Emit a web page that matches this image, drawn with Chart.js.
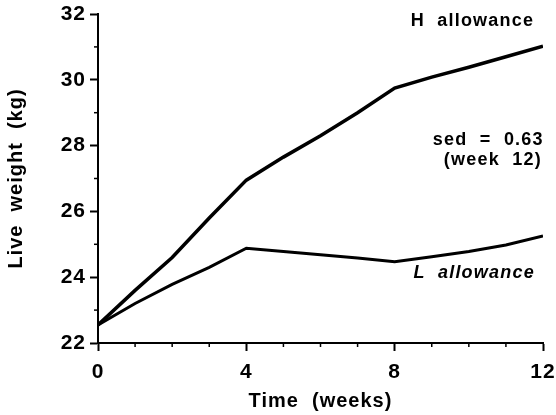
<!DOCTYPE html>
<html>
<head>
<meta charset="utf-8">
<script src="https://cdn.jsdelivr.net/npm/chart.js@4"></script>
<style>
  html, body { margin: 0; padding: 0; background: #fff; }
  #wrap { width: 556px; height: 415px; }
</style>
</head>
<body>
<div id="wrap"><canvas id="chart" width="556" height="415"></canvas></div>
<script>
// weeks
const weeks = [0, 1, 2, 3, 4, 5, 6, 7, 8, 9, 10, 11, 12];
// live weight (kg)
const highAllowance = [22.55, 23.6, 24.6, 25.8, 26.95, 27.65, 28.3, 29.0, 29.75, 30.08, 30.38, 30.7, 31.02];
const lowAllowance = [22.55, 23.2, 23.78, 24.3, 24.88, 24.78, 24.68, 24.58, 24.47, 24.62, 24.78, 24.98, 25.25];

const xMajor = [0, 4, 8, 12];
const yMajor = [22, 24, 26, 28, 30, 32];

const FONT = "'Liberation Sans', Arial, Helvetica, sans-serif";

/* ================= ANNOTATIONS + MINOR TICKS ================= */

const extras = {
  id: "extras",
  beforeLayout(chart) { chart.ctx.letterSpacing = "1px"; },
  beforeDraw(chart) { chart.ctx.letterSpacing = "1px"; },
  afterDraw(chart) {
    const ctx = chart.ctx;
    const x = chart.scales.x;
    const y = chart.scales.y;

    ctx.save();
    ctx.strokeStyle = "#000";
    ctx.lineWidth = 1.5;

    // minor ticks (short ones)
    for (let w = 0; w <= 12; w++) {
      if (xMajor.includes(w)) continue;
      const px = x.getPixelForValue(w);
      ctx.beginPath();
      ctx.moveTo(px, y.bottom);
      ctx.lineTo(px, y.bottom + 4);
      ctx.stroke();
    }
    for (let v = 22; v <= 32; v++) {
      if (yMajor.includes(v)) continue;
      const py = y.getPixelForValue(v);
      ctx.beginPath();
      ctx.moveTo(x.left - 4, py);
      ctx.lineTo(x.left, py);
      ctx.stroke();
    }

    // text labels
    ctx.fillStyle = "#000";
    ctx.textAlign = "right";
    ctx.textBaseline = "middle";
    ctx.letterSpacing = "1.2px";

    ctx.font = "bold 18px " + FONT;
    ctx.fillText("H  allowance", x.getPixelForValue(11.76), y.getPixelForValue(31.8));

    ctx.fillText("sed  =  0.63", x.getPixelForValue(12.02), y.getPixelForValue(28.18));
    ctx.fillText("(week  12)", x.getPixelForValue(11.97), y.getPixelForValue(27.55));

    ctx.font = "italic bold 18px " + FONT;
    ctx.fillText("L  allowance", x.getPixelForValue(11.78), y.getPixelForValue(24.12));

    ctx.restore();
  }
};

/* ================= CHART ================= */

new Chart(document.getElementById("chart"), {
  type: "line",
  data: {
    labels: weeks,
    datasets: [
      {
        label: "H allowance",
        data: weeks.map((w, i) => ({ x: w, y: highAllowance[i] })),
        borderColor: "#000",
        borderWidth: 3.5,
        pointRadius: 0,
        tension: 0
      },
      {
        label: "L allowance",
        data: weeks.map((w, i) => ({ x: w, y: lowAllowance[i] })),
        borderColor: "#000",
        borderWidth: 3,
        pointRadius: 0,
        tension: 0
      }
    ]
  },
  options: {
    responsive: false,
    animation: false,
    layout: { padding: { top: 14, right: 13, left: 4, bottom: 2 } },
    plugins: {
      legend: { display: false },
      tooltip: { enabled: false }
    },
    scales: {
      x: {
        type: "linear",
        min: 0,
        max: 12,
        afterBuildTicks: scale => {
          scale.ticks = xMajor.map(v => ({ value: v }));
        },
        afterFit: scale => {
          scale.height = 415 - 343 - 2;
          scale.paddingLeft = 0;
          scale.paddingRight = 0;
        },
        border: { display: true, color: "#000", width: 2 },
        grid: {
          drawOnChartArea: false,
          drawTicks: true,
          tickLength: 8,
          tickColor: "#000",
          tickWidth: 2
        },
        ticks: {
          padding: 9,
          color: "#000",
          font: { family: FONT, size: 21, weight: "bold" },
          maxRotation: 0
        },
        title: {
          display: true,
          text: "Time  (weeks)",
          color: "#000",
          font: { family: FONT, size: 20, weight: "bold" },
          padding: { top: 0, bottom: 0 }
        }
      },
      y: {
        type: "linear",
        min: 22,
        max: 32,
        afterBuildTicks: scale => {
          scale.ticks = yMajor.map(v => ({ value: v }));
        },
        afterFit: scale => {
          scale.width = 98 - 4;
          scale.paddingTop = 0;
          scale.paddingBottom = 0;
        },
        border: { display: true, color: "#000", width: 2 },
        grid: {
          drawOnChartArea: false,
          drawTicks: true,
          tickLength: 8,
          tickColor: "#000",
          tickWidth: 2
        },
        ticks: {
          padding: 4,
          color: "#000",
          font: { family: FONT, size: 21, weight: "bold" }
        },
        title: {
          display: true,
          text: "Live  weight  (kg)",
          color: "#000",
          font: { family: FONT, size: 20, weight: "bold" },
          padding: { top: 0, bottom: 0 }
        }
      }
    }
  },
  plugins: [extras]
});
</script>
</body>
</html>
